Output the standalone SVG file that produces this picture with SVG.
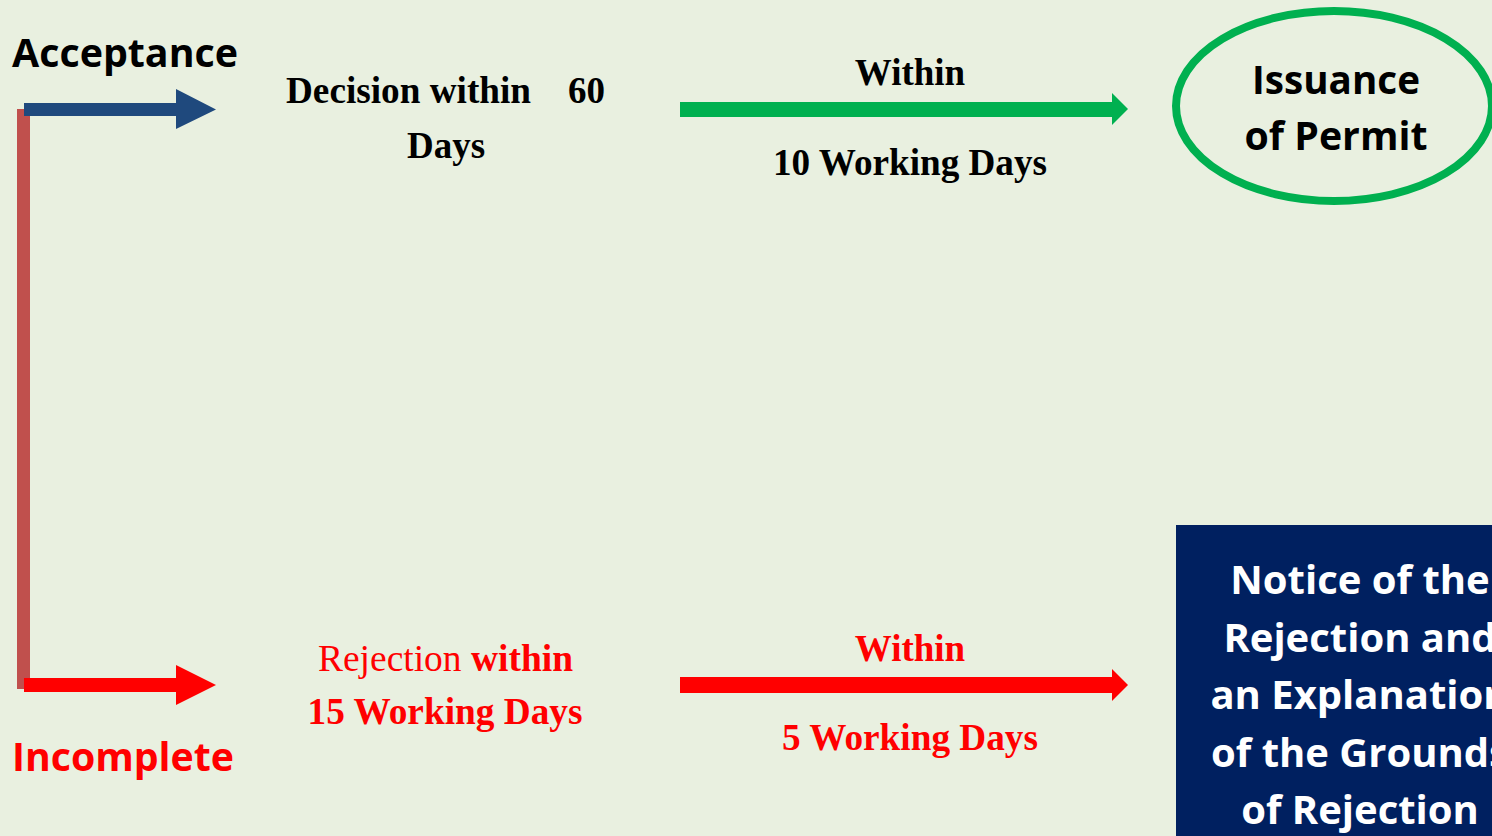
<svg xmlns="http://www.w3.org/2000/svg" width="1492" height="836" viewBox="0 0 1492 836">
  <style>
    .sans { font-family: "Open Sans", "Noto Sans", "Liberation Sans", sans-serif; font-weight: 700; }
    .serif { font-family: "Liberation Serif", "Times New Roman", serif; font-weight: 700; font-size: 37px; }
    .blk { fill: #000000; }
    .red { fill: #ff0000; }
    .wht { fill: #ffffff; }
    .mid { text-anchor: middle; }
  </style>
  <rect x="0" y="0" width="1492" height="836" fill="#e9f0e0"/>

  <g id="connectors">
    <!-- vertical bracket bar -->
    <rect x="17" y="109" width="13" height="580" fill="#c0504d"/>
    <!-- blue acceptance arrow -->
    <path d="M24 103 H176 V89 L216 109.5 L176 129 V116 H24 Z" fill="#1f497d"/>
    <!-- red incomplete arrow -->
    <path d="M24 678 H176 V665 L216 685 L176 705 V692 H24 Z" fill="#ff0000"/>
    <!-- green arrow -->
    <path d="M680 102 H1112 V93 L1128 109 L1112 125 V117 H680 Z" fill="#00b050"/>
    <!-- red arrow -->
    <path d="M680 677 H1112 V669 L1128 685 L1112 701 V693 H680 Z" fill="#ff0000"/>
  </g>

  <g id="acceptance">
    <text class="sans blk" x="12" y="67" font-size="40" textLength="226" lengthAdjust="spacingAndGlyphs">Acceptance</text>
  </g>

  <g id="incomplete">
    <text class="sans red" x="12" y="771" font-size="40" textLength="222" lengthAdjust="spacingAndGlyphs">Incomplete</text>
  </g>

  <g id="decision">
    <text class="serif blk" x="286" y="103" textLength="245" lengthAdjust="spacingAndGlyphs">Decision within</text>
    <text class="serif blk" x="568" y="103" textLength="37" lengthAdjust="spacingAndGlyphs">60</text>
    <text class="serif blk mid" x="446" y="158">Days</text>
  </g>

  <g id="within-10">
    <text class="serif blk mid" x="910" y="85">Within</text>
    <text class="serif blk mid" x="910" y="175" textLength="274" lengthAdjust="spacingAndGlyphs">10 Working Days</text>
  </g>

  <g id="issuance">
    <ellipse cx="1334" cy="106" rx="158" ry="95" fill="none" stroke="#00b050" stroke-width="8"/>
    <text class="sans blk mid" x="1336" y="94" font-size="39" textLength="168" lengthAdjust="spacingAndGlyphs">Issuance</text>
    <text class="sans blk mid" x="1336" y="150" font-size="39" textLength="183" lengthAdjust="spacingAndGlyphs">of Permit</text>
  </g>

  <g id="rejection">
    <text class="serif red" x="318" y="671" textLength="255" lengthAdjust="spacingAndGlyphs"><tspan font-weight="400">Rejection </tspan><tspan>within</tspan></text>
    <text class="serif red mid" x="445" y="724" textLength="275" lengthAdjust="spacingAndGlyphs">15 Working Days</text>
  </g>

  <g id="within-5">
    <text class="serif red mid" x="910" y="661">Within</text>
    <text class="serif red mid" x="910" y="750" textLength="256" lengthAdjust="spacingAndGlyphs">5 Working Days</text>
  </g>

  <g id="notice">
    <rect x="1176" y="525" width="330" height="320" fill="#002060"/>
    <text class="sans wht mid" x="1360" y="594" font-size="40">Notice of the</text>
    <text class="sans wht mid" x="1360" y="652" font-size="40">Rejection and</text>
    <text class="sans wht mid" x="1360" y="709" font-size="40">an Explanation</text>
    <text class="sans wht mid" x="1360" y="767" font-size="40">of the Grounds</text>
    <text class="sans wht mid" x="1360" y="824" font-size="40">of Rejection</text>
  </g>
</svg>
